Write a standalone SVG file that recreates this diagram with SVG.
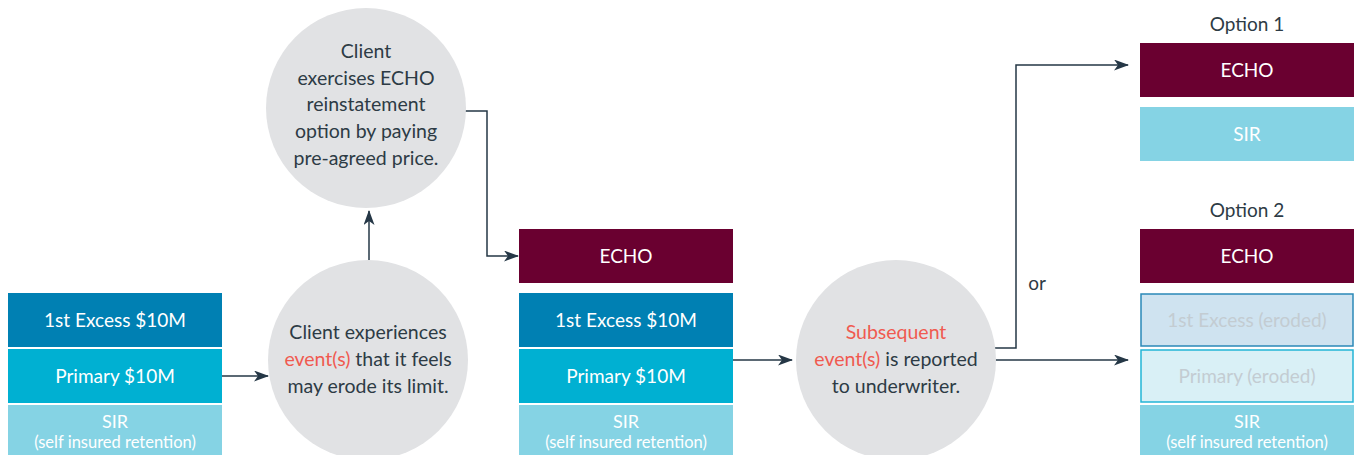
<svg xmlns="http://www.w3.org/2000/svg" width="1354" height="455" viewBox="0 0 1354 455">
<style>
  text { font-family: Lato, "Noto Sans", "Liberation Sans", sans-serif; text-anchor: middle; }
  .box { font-size: 19px; fill: #ffffff; }
  .sirt { font-size: 18px; fill: #ffffff; }
  .sub { font-size: 16.5px; fill: #ffffff; }
  .dark { font-size: 19px; fill: #2d3b45; }
  .ctext { font-size: 19.5px; fill: #2d3b45; }
  .red { fill: #f05a50; }
  .faded { font-size: 19px; fill: #c3ccd2; }
  .circle { fill: #e1e2e4; }
  .excess { fill: #0080b3; }
  .primary { fill: #00b0d2; }
  .sir { fill: #85d3e4; }
  .echo { fill: #6a0030; }
  .conn { fill: none; stroke: #253746; stroke-width: 1.5; }
</style>
<defs>
  <marker id="arrow" viewBox="0 0 15 11" refX="14" refY="5.5" markerWidth="15" markerHeight="11" markerUnits="userSpaceOnUse" orient="auto">
    <path d="M0,0 L15,5.5 L0,11 L4,5.5 Z" fill="#253746"/>
  </marker>
</defs>
<rect width="1354" height="455" fill="#ffffff"/>

<g id="connectors">
  <line class="conn" x1="222" y1="376" x2="268" y2="376" marker-end="url(#arrow)"/>
  <line class="conn" x1="369" y1="260" x2="369" y2="211" marker-end="url(#arrow)"/>
  <polyline class="conn" points="465,111 487,111 487,256 518,256" marker-end="url(#arrow)"/>
  <line class="conn" x1="733" y1="360" x2="792" y2="360" marker-end="url(#arrow)"/>
  <polyline class="conn" points="995,348 1016,348 1016,65 1128,65" marker-end="url(#arrow)"/>
  <line class="conn" x1="995" y1="360" x2="1128" y2="360" marker-end="url(#arrow)"/>
  <text class="dark" x="1037" y="290">or</text>
</g>

<g id="stack-initial">
  <rect class="excess" x="8" y="293" width="214" height="54"/>
  <text class="box" x="115" y="327">1st Excess $10M</text>
  <rect class="primary" x="8" y="349" width="214" height="54"/>
  <text class="box" x="115" y="383">Primary $10M</text>
  <rect class="sir" x="8" y="405" width="214" height="50"/>
  <text class="sirt" x="115" y="428">SIR</text>
  <text class="sub" x="115" y="448">(self insured retention)</text>
</g>

<g id="circle-event">
  <circle class="circle" cx="368" cy="360" r="100"/>
  <text class="ctext" x="368" y="339">Client experiences</text>
  <text class="ctext" x="368" y="366"><tspan class="red">event(s)</tspan> that it feels</text>
  <text class="ctext" x="368" y="393">may erode its limit.</text>
</g>

<g id="circle-exercise">
  <circle class="circle" cx="366" cy="108" r="100"/>
  <text class="ctext" x="366" y="58">Client</text>
  <text class="ctext" x="366" y="85">exercises ECHO</text>
  <text class="ctext" x="366" y="111">reinstatement</text>
  <text class="ctext" x="366" y="138">option by paying</text>
  <text class="ctext" x="366" y="165">pre-agreed price.</text>
</g>

<g id="stack-reinstated">
  <rect class="echo" x="519" y="229" width="214" height="54"/>
  <text class="box" x="626" y="263">ECHO</text>
  <rect class="excess" x="519" y="293" width="214" height="54"/>
  <text class="box" x="626" y="327">1st Excess $10M</text>
  <rect class="primary" x="519" y="349" width="214" height="54"/>
  <text class="box" x="626" y="383">Primary $10M</text>
  <rect class="sir" x="519" y="405" width="214" height="50"/>
  <text class="sirt" x="626" y="428">SIR</text>
  <text class="sub" x="626" y="448">(self insured retention)</text>
</g>

<g id="circle-subsequent">
  <circle class="circle" cx="896" cy="360" r="100"/>
  <text class="ctext" x="896" y="339"><tspan class="red">Subsequent</tspan></text>
  <text class="ctext" x="896" y="366"><tspan class="red">event(s)</tspan> is reported</text>
  <text class="ctext" x="896" y="393">to underwriter.</text>
</g>

<g id="option-1">
  <text class="dark" x="1247" y="31">Option 1</text>
  <rect class="echo" x="1140" y="43" width="214" height="54"/>
  <text class="box" x="1247" y="77">ECHO</text>
  <rect class="sir" x="1140" y="107" width="214" height="54"/>
  <text class="box" x="1247" y="141">SIR</text>
</g>

<g id="option-2">
  <text class="dark" x="1247" y="217">Option 2</text>
  <rect class="echo" x="1140" y="229" width="214" height="54"/>
  <text class="box" x="1247" y="263">ECHO</text>
  <rect x="1141" y="294" width="212" height="52" fill="#cfe3f0" stroke="#2b89b8" stroke-width="1.5"/>
  <text class="faded" x="1247" y="327">1st Excess (eroded)</text>
  <rect x="1141" y="350" width="212" height="52" fill="#d9f0f6" stroke="#23b5d6" stroke-width="1.5"/>
  <text class="faded" x="1247" y="383">Primary (eroded)</text>
  <rect class="sir" x="1140" y="405" width="214" height="50"/>
  <text class="sirt" x="1247" y="428">SIR</text>
  <text class="sub" x="1247" y="448">(self insured retention)</text>
</g>
</svg>
